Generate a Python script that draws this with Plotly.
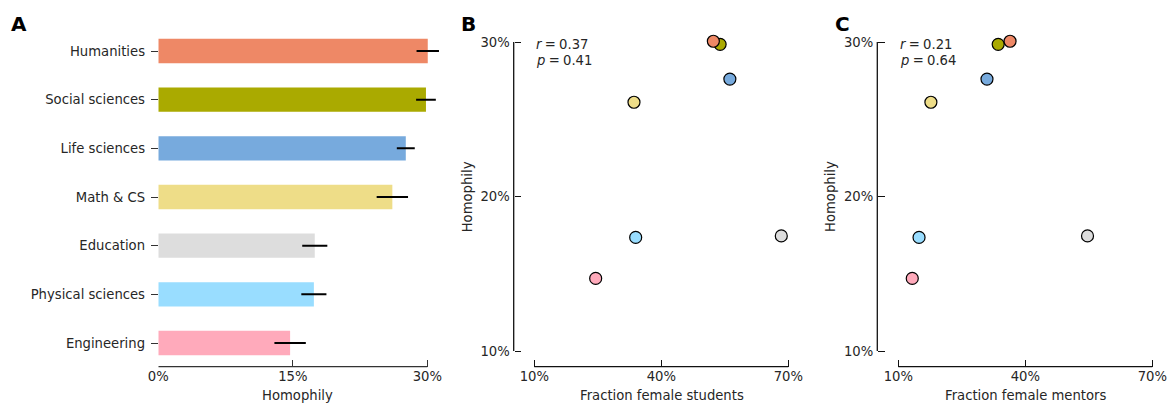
import plotly.graph_objects as go

fields = ["Humanities", "Social sciences", "Life sciences", "Math & CS",
          "Education", "Physical sciences", "Engineering"]
colors = ["#EE8866", "#AAAA00", "#77AADD", "#EEDD88", "#DDDDDD", "#99DDFF", "#FFAABB"]
homophily = [30.05, 29.85, 27.6, 26.1, 17.45, 17.35, 14.7]
homophily_err = [1.25, 1.1, 1.0, 1.75, 1.4, 1.4, 1.75]
frac_female_students = [52.3, 53.9, 56.2, 33.55, 68.35, 33.95, 24.5]
frac_female_mentors = [36.4, 33.6, 30.95, 17.7, 54.7, 14.9, 13.3]
stats_students = ("0.37", "0.41")
stats_mentors = ("0.21", "0.64")
bar_ticks = [0, 15, 30]
bar_ticklabels = ["0%", "15%", "30%"]
frac_ticks = [10, 40, 70]
frac_ticklabels = ["10%", "40%", "70%"]
hom_ticks = [10, 20, 30]
hom_ticklabels = ["10%", "20%", "30%"]

W, H = 1167, 403
FONT = dict(family="DejaVu Sans", size=13.2, color="#262626")


def px(x):
    return x / W


def py(y):
    return 1 - y / H


fig = go.Figure()

# Panel A: horizontal bars with error bars
fig.add_trace(go.Bar(
    x=homophily, y=fields, orientation="h", width=0.5,
    marker=dict(color=colors, line=dict(width=0)),
    error_x=dict(type="data", array=homophily_err, color="black", thickness=2, width=0),
    xaxis="x", yaxis="y", showlegend=False, hoverinfo="skip",
))

# Panels B, C: scatters (reversed draw order so Humanities sits on top)
rev = list(range(len(fields)))[::-1]
for xs, xa, ya in [(frac_female_students, "x2", "y2"), (frac_female_mentors, "x3", "y3")]:
    fig.add_trace(go.Scatter(
        x=[xs[i] for i in rev], y=[homophily[i] for i in rev], mode="markers",
        marker=dict(size=12, color=[colors[i] for i in rev], line=dict(color="black", width=1.2)),
        cliponaxis=False, xaxis=xa, yaxis=ya, showlegend=False, hoverinfo="skip",
    ))

axis_pos_x = py(366.7)
common_tick = dict(ticks="inside", ticklen=6.5, tickwidth=1.2, showgrid=False, zeroline=False,
                   tickfont=FONT, fixedrange=True, showline=False)

# pixel scales
kA = 8.967      # px per % (panel A)
kX = 4.233      # px per % (panels B, C x)
kY = 15.45      # px per % (panels B, C y)
xr = [8, 72]
yr = [9, 31]


def xdom(px10):
    return [px(px10 - (10 - xr[0]) * kX), px(px10 + (xr[1] - 10) * kX)]


ydom = [py(351 + (10 - yr[0]) * kY), py(351 - (yr[1] - 10) * kY)]

fig.update_layout(
    width=W, height=H, margin=dict(l=0, r=0, t=0, b=0, autoexpand=False),
    paper_bgcolor="white", plot_bgcolor="rgba(0,0,0,0)", font=FONT,
    xaxis=dict(domain=[px(158.3), px(158.3 + 32 * kA)], range=[0, 32], anchor="free",
               position=axis_pos_x, tickvals=bar_ticks, ticktext=bar_ticklabels,
               tickcolor="#333333", **common_tick),
    yaxis=dict(domain=[py(367.33), py(26.67)], range=[6.5, -0.5], type="category",
               anchor="free", position=px(150), tickcolor="#333333", ticklabelstandoff=5,
               **common_tick),
    xaxis2=dict(domain=xdom(534.3), range=xr, anchor="free", position=axis_pos_x,
                tickvals=frac_ticks, ticktext=frac_ticklabels, tickcolor="#111111", **common_tick),
    yaxis2=dict(domain=ydom, range=yr, anchor="free", position=px(513.7),
                tickvals=hom_ticks, ticktext=hom_ticklabels, tickcolor="#111111",
                ticklabelstandoff=4, **common_tick),
    xaxis3=dict(domain=xdom(898.3), range=xr, anchor="free", position=axis_pos_x,
                tickvals=frac_ticks, ticktext=frac_ticklabels, tickcolor="#111111", **common_tick),
    yaxis3=dict(domain=ydom, range=yr, anchor="free", position=px(877.3),
                tickvals=hom_ticks, ticktext=hom_ticklabels, tickcolor="#111111",
                ticklabelstandoff=4, **common_tick),
)

# Trimmed spines
fig.add_shape(type="line", xref="x", yref="paper", x0=bar_ticks[0], x1=bar_ticks[-1],
              y0=axis_pos_x, y1=axis_pos_x, line=dict(color="#333333", width=1.3))
for xa, ya, ypos in [("x2", "y2", px(513.7)), ("x3", "y3", px(877.3))]:
    fig.add_shape(type="line", xref=xa, yref="paper", x0=frac_ticks[0], x1=frac_ticks[-1],
                  y0=axis_pos_x, y1=axis_pos_x, line=dict(color="#111111", width=1.3))
    fig.add_shape(type="line", xref="paper", yref=ya, x0=ypos, x1=ypos,
                  y0=hom_ticks[0], y1=hom_ticks[-1], line=dict(color="#111111", width=1.3))

ann = []
# Panel letters
for letter, x in [("A", 9), ("B", 459), ("C", 833)]:
    ann.append(dict(text="<b>%s</b>" % letter, x=px(x), y=py(23.5), xref="paper", yref="paper",
                    xanchor="left", yanchor="middle", showarrow=False,
                    font=dict(family="DejaVu Sans", size=20, color="black")))
# Axis titles
ann.append(dict(text="Homophily", x=px(297.3), y=py(395.5), xref="paper", yref="paper",
                xanchor="center", yanchor="middle", showarrow=False, font=FONT))
ann.append(dict(text="Fraction female students", x=px(661.5), y=py(395.5), xref="paper", yref="paper",
                xanchor="center", yanchor="middle", showarrow=False, font=FONT))
ann.append(dict(text="Fraction female mentors", x=px(1025.7), y=py(395.5), xref="paper", yref="paper",
                xanchor="center", yanchor="middle", showarrow=False, font=FONT))
for x in [467.3, 830]:
    ann.append(dict(text="Homophily", x=px(x), y=py(197), xref="paper", yref="paper", textangle=-90,
                    xanchor="center", yanchor="middle", showarrow=False, font=FONT))
# Correlation stats
sp = "\u2005"
for (r, p), xa in [(stats_students, "x2"), (stats_mentors, "x3")]:
    ann.append(dict(text="<i>r</i>%s=%s%s" % (sp, sp, r), x=10, y=py(44.3), xref=xa, yref="paper",
                    xanchor="left", yanchor="middle", showarrow=False, font=FONT))
    ann.append(dict(text="<i>p</i>%s=%s%s" % (sp, sp, p), x=10, y=py(60.7), xref=xa, yref="paper",
                    xanchor="left", yanchor="middle", showarrow=False, font=FONT))
fig.update_layout(annotations=ann)

fig.write_html("out.html", config={"displayModeBar": False})
